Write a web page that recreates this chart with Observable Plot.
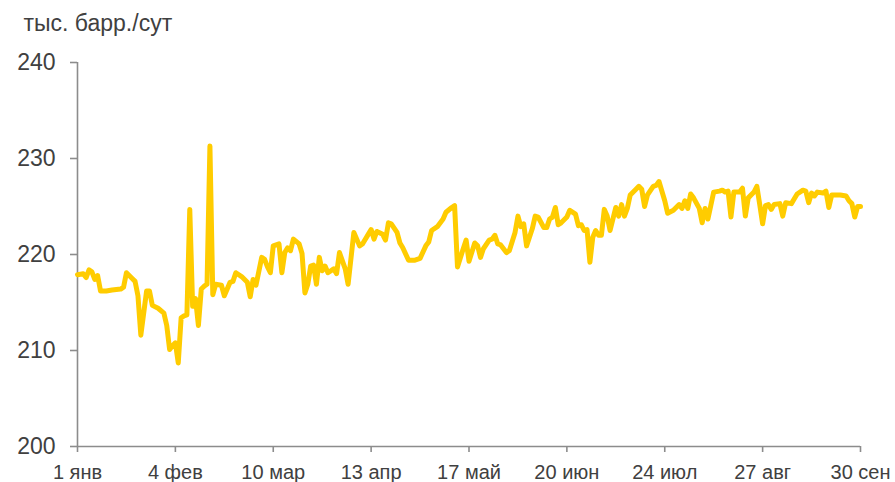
<!DOCTYPE html>
<html>
<head>
<meta charset="utf-8">
<script src="https://cdn.jsdelivr.net/npm/d3@7"></script>
<script src="https://cdn.jsdelivr.net/npm/@observablehq/plot@0.6"></script>
<style>
  html, body { margin: 0; padding: 0; background: #fff; }
</style>
</head>
<body>
<div id="chart"></div>
<script>
const year = 2019;
const unitLabel = "тыс. барр./сут";
const monthLabels = ["янв","фев","мар","апр","май","июн","июл","авг","сен","окт","ноя","дек"];
const tickDays = [0, 34, 68, 102, 136, 170, 204, 238, 272];
const yTicks = [200, 210, 220, 230, 240];

// day offset from 1 Jan
const dayOffsets = [
  0,2,3,4,5,6,7,8,10,12,15,16,17,19,20,21,22,24,25,26,28,30,31,32,33,34,35,36,37,38,39,40,41,42,43,44,45,46,47,48,50,51,53,54,55,57,59,60,61,62,64,65,66,67,68,70,71,72,73,74,75,77,78,79,80,81,82,83,84,85,86,87,89,90,91,93,94,96,97,98,99,101,102,103,104,106,107,108,109,111,112,113,115,117,119,121,122,123,125,127,128,130,131,132,134,135,136,138,139,140,141,143,144,145,146,147,149,150,152,153,154,155,156,158,159,160,162,163,164,165,166,167,168,170,171,173,174,175,176,177,178,179,180,181,182,183,184,185,187,188,189,190,191,192,194,195,196,197,198,200,201,202,204,205,207,209,210,211,212,213,214,216,217,218,219,220,221,223,224,225,226,227,228,230,231,232,233,235,236,237,238,239,240,241,242,244,245,246,248,249,250,252,253,254,255,256,257,259,260,261,262,263,265,267,268,269,270,271,272
];
const values = [
  217.9,218.0,217.6,218.4,218.2,217.4,217.8,216.2,216.2,216.3,216.4,216.6,218.1,217.5,217.2,215.7,211.6,216.2,216.2,214.7,214.4,213.9,212.6,210.1,210.5,210.8,208.7,213.4,213.6,213.7,224.7,214.6,215.4,212.6,216.4,216.7,216.9,231.3,215.8,216.9,216.8,215.7,217.1,217.2,218.1,217.7,217.1,215.6,217.4,216.8,219.7,219.5,218.7,218.1,220.9,221.1,218.1,220.2,220.7,220.4,221.6,221.1,220.1,216.0,216.9,218.8,218.9,216.9,219.7,218.3,218.8,218.1,218.5,218.0,220.2,218.5,216.9,222.3,221.6,220.9,221.1,222.1,222.6,221.6,222.4,222.1,221.5,223.3,223.2,222.3,221.2,220.7,219.4,219.4,219.6,220.9,221.3,222.5,222.9,223.7,224.4,224.9,225.1,218.7,220.6,221.5,219.3,221.2,220.9,219.7,220.6,221.5,221.6,222.0,221.1,221.0,220.2,220.4,222.3,224.0,222.9,223.2,220.9,222.7,224.0,223.9,222.8,222.8,223.7,223.9,224.9,223.1,223.3,223.9,224.6,224.2,223.0,223.1,222.5,222.6,219.2,221.8,222.5,222.0,222.0,224.7,224.0,222.5,224.9,224.0,225.2,224.0,224.8,226.2,226.8,227.1,226.8,225.0,226.2,227.1,227.2,227.6,225.6,224.3,224.6,225.2,224.8,225.6,224.8,226.3,225.9,224.8,223.3,224.8,223.7,225.1,226.5,226.6,226.7,226.5,226.6,223.9,226.5,226.5,226.9,224.0,225.9,226.5,227.1,225.2,223.2,225.1,225.2,224.7,225.2,225.3,224.0,225.4,225.3,225.8,226.3,226.7,226.6,225.4,226.4,226.1,226.5,226.4,226.6,224.9,226.2,226.2,226.2,226.1,225.6,225.3,223.9,225.0,225.0
];

const toDate = d => new Date(Date.UTC(year, 0, 1 + d));
const data = dayOffsets.map((d, i) => ({ date: toDate(d), value: values[i] }));

const axisColor = "#8c8c8c";
const textColor = "#404040";

const chart = Plot.plot({
  width: 895,
  height: 482,
  marginLeft: 77,
  marginRight: 35,
  marginTop: 62,
  marginBottom: 36,
  style: {
    fontFamily: "'Liberation Sans', Arial, sans-serif",
    fontSize: "20px",
    color: textColor,
    background: "#fff",
    overflow: "visible"
  },
  x: { type: "utc", domain: [toDate(0), toDate(272)] },
  y: { domain: [200, 240] },
  marks: [
    Plot.ruleX([toDate(0)], { stroke: axisColor, strokeWidth: 1.6 }),
    Plot.ruleY([200], { stroke: axisColor, strokeWidth: 1.6 }),
    Plot.axisY({
      ticks: yTicks,
      tickSize: 7,
      tickPadding: 15,
      stroke: axisColor,
      strokeWidth: 1.6,
      fill: textColor,
      fontSize: 23,
      label: null
    }),
    Plot.axisX({
      ticks: tickDays.map(toDate),
      tickSize: 6,
      tickPadding: 12,
      stroke: axisColor,
      strokeWidth: 1.6,
      fill: textColor,
      fontSize: 20,
      tickFormat: d => `${d.getUTCDate()} ${monthLabels[d.getUTCMonth()]}`,
      label: null
    }),
    Plot.line(data, {
      x: "date",
      y: "value",
      stroke: "#FFCC00",
      strokeWidth: 5,
      strokeLinejoin: "round",
      strokeLinecap: "round"
    }),
    Plot.text([unitLabel], {
      frameAnchor: "top-left",
      textAnchor: "start",
      lineAnchor: "bottom",
      dx: -54,
      dy: -32,
      fill: textColor,
      fontSize: 23
    })
  ]
});
document.getElementById("chart").append(chart);
</script>
</body>
</html>
